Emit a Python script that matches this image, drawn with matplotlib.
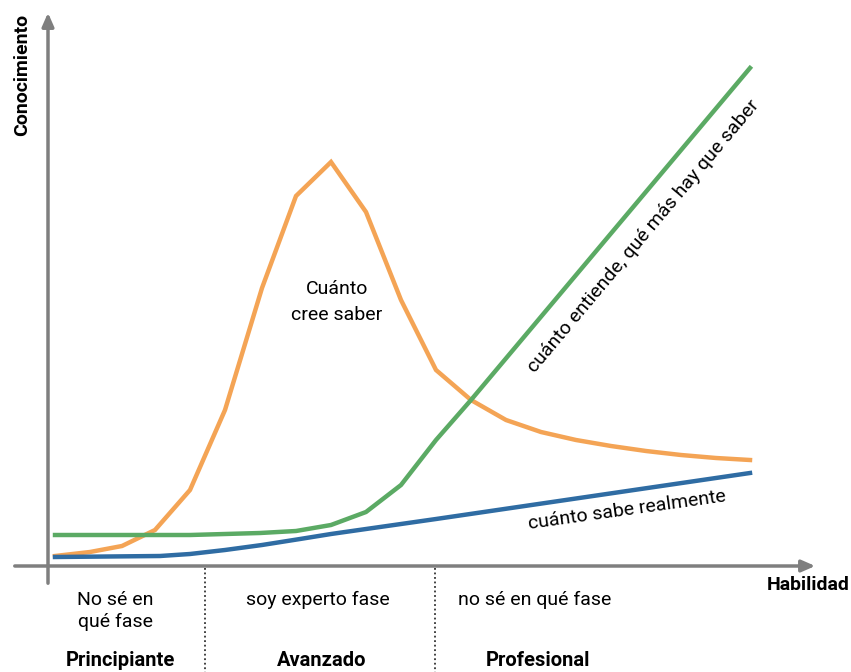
import matplotlib
matplotlib.use("Agg")
import matplotlib.pyplot as plt

# Data (x = habilidad, y = conocimiento), arbitrary units
x_orange = [7, 42, 74, 107, 142, 177, 214, 248, 283, 318, 353, 388, 423, 458, 493, 528, 563, 598, 633, 668, 702]
y_orange = [10, 14, 20, 36, 76, 156, 278, 370, 404, 354, 266, 196, 166, 146, 134, 126, 120, 115, 111, 108, 106]

x_green = [7, 142, 212, 248, 283, 318, 353, 388, 423, 702]
y_green = [31, 31, 33, 35, 41, 54, 81, 126, 166, 498]

x_blue = [7, 112, 142, 177, 214, 252, 283, 318, 353, 388, 702]
y_blue = [9, 10, 12, 16, 21, 27, 32, 37, 42, 47, 93]

phase_bounds = [157, 387]
phase_desc = ["No sé en\nqué fase", "soy experto fase", "no sé en qué fase"]
phase_desc_x = [67, 270, 487]
phase_names = ["Principiante", "Avanzado", "Profesional"]
phase_names_x = [72, 274, 490]

c_orange = "#F4A455"
c_green = "#5BAA64"
c_blue = "#2F6CA3"
c_axis = "#7F7F7F"

cond = ["Roboto", "DejaVu Sans"]
regular = ["Roboto", "DejaVu Sans"]

fig = plt.figure(figsize=(8.51, 6.72), dpi=100)
ax = fig.add_axes([0, 0, 1, 1])
ax.set_xlim(-48, 803)
ax.set_ylim(-106, 566)
ax.axis("off")

# axes with arrows
ax.annotate("", xy=(0, 556), xytext=(0, -20),
            arrowprops=dict(arrowstyle="-|>,head_length=0.8,head_width=0.35", color=c_axis, lw=2.5))
ax.annotate("", xy=(770, 0), xytext=(-36, 0),
            arrowprops=dict(arrowstyle="-|>,head_length=0.8,head_width=0.35", color=c_axis, lw=2.5))

# phase dividers
for b in phase_bounds:
    ax.plot([b, b], [-2, -106], ls=(0, (1, 1.5)), color="#333333", lw=1.3)

# curves
ax.plot(x_orange, y_orange, color=c_orange, lw=3.2, solid_joinstyle="miter", zorder=3)
ax.plot(x_green, y_green, color=c_green, lw=3.2, zorder=4)
ax.plot(x_blue, y_blue, color=c_blue, lw=3.2, zorder=5)

# axis labels
ax.text(-26, 491, "Conocimiento", rotation=90, ha="center", va="center",
        fontsize=14, fontweight="bold", family=cond)
ax.text(802, -19, "Habilidad", ha="right", va="center",
        fontsize=14, fontweight="bold", family=cond)

# phase texts
for t, xx in zip(phase_desc, phase_desc_x):
    ax.text(xx, -25, t, ha="center", va="top", fontsize=14, family=cond, linespacing=1.25)
for t, xx in zip(phase_names, phase_names_x):
    ax.text(xx, -94, t, ha="center", va="center", fontsize=14.5, fontweight="bold", family=cond)

# curve annotations
ax.text(289, 264, "Cuánto\ncree saber", ha="center", va="center", fontsize=14,
        family=regular, linespacing=1.5)
ax.text(596, 330, "cuánto entiende, qué más hay que saber", ha="center", va="center",
        fontsize=14, family=regular, rotation=50, rotation_mode="anchor")
ax.text(579, 56, "cuánto sabe realmente", ha="center", va="center",
        fontsize=14, family=regular, rotation=8, rotation_mode="anchor")

fig.savefig("out.png", dpi=100)
